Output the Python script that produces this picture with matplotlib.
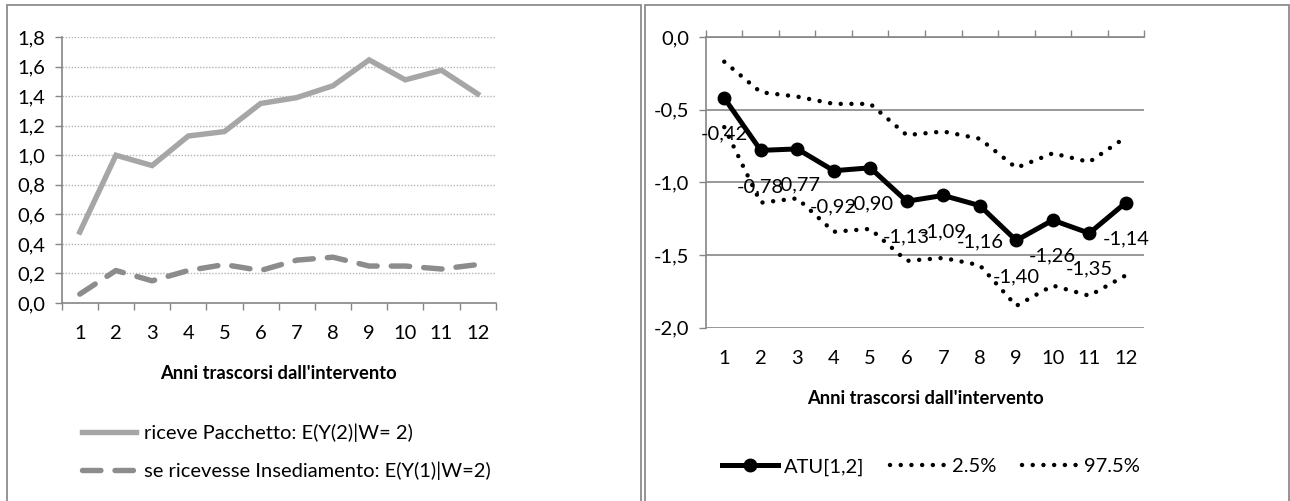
import numpy as np
import matplotlib.pyplot as plt
from matplotlib.lines import Line2D
from matplotlib.patches import Rectangle
from matplotlib.ticker import FuncFormatter, MultipleLocator

plt.rcParams['font.family'] = ['Lato', 'DejaVu Sans']

years = list(range(1, 13))

# left panel: expected outcomes
riceve_pacchetto = [0.48, 1.00, 0.93, 1.13, 1.16, 1.35, 1.39, 1.47, 1.645, 1.51, 1.575, 1.415]
se_insediamento = [0.06, 0.22, 0.15, 0.22, 0.26, 0.22, 0.29, 0.31, 0.25, 0.25, 0.23, 0.26]

# right panel: ATU with bounds
atu = [-0.42, -0.78, -0.77, -0.92, -0.90, -1.13, -1.09, -1.16, -1.40, -1.26, -1.35, -1.14]
lower_25 = [-0.62, -1.14, -1.11, -1.34, -1.32, -1.54, -1.52, -1.57, -1.85, -1.71, -1.78, -1.64]
upper_975 = [-0.17, -0.38, -0.41, -0.46, -0.46, -0.675, -0.65, -0.70, -0.90, -0.80, -0.86, -0.69]

W, H = 1290, 501
AXIS_GRAY = '#868686'
FS = 14.5
FS_BOLD = 13.2


def comma(v, pos):
    return f"{v:.1f}".replace('.', ',')


def fx(px):
    return px / W


def fy(px):
    return 1 - px / H


fig = plt.figure(figsize=(W / 100, H / 100), dpi=100)

# panel frames
for x0, x1 in [(7, 641), (645, 1289)]:
    fig.add_artist(Rectangle((fx(x0), -0.05), fx(x1) - fx(x0), fy(5) + 0.05,
                             transform=fig.transFigure, fill=False,
                             edgecolor='#8c8c8c', lw=1.3))

# ---------- left chart ----------
ax1 = fig.add_axes([fx(61.7), fy(303), fx(434), 266 / H])
ax1.plot(years, riceve_pacchetto, color='#a6a6a6', lw=3.9, solid_joinstyle='miter')
ax1.plot(years, se_insediamento, color='#8c8c8c', lw=3.9, dashes=(3.4, 2.6),
         dash_capstyle='round')
ax1.set_xlim(0.5, 12.5)
ax1.set_ylim(0, 1.8)
ax1.yaxis.set_major_locator(MultipleLocator(0.2))
ax1.yaxis.set_major_formatter(FuncFormatter(comma))
ax1.set_xticks(years)
ax1.set_xticks(np.arange(0.5, 13, 1), minor=True)
ax1.tick_params(axis='x', which='major', length=0, pad=16, labelsize=FS)
ax1.tick_params(axis='x', which='minor', length=5, width=1, color=AXIS_GRAY, direction='out')
ax1.tick_params(axis='y', length=5, width=1, color=AXIS_GRAY, pad=7, labelsize=FS)
ax1.grid(axis='y', color='#b4b4b4', lw=1, ls=(0, (1, 1.2)))
ax1.set_axisbelow(True)
for s in ['top', 'right']:
    ax1.spines[s].set_visible(False)
for s in ['left', 'bottom']:
    ax1.spines[s].set_color(AXIS_GRAY)
    ax1.spines[s].set_linewidth(1.2)
ax1.set_xlabel("Anni trascorsi dall'intervento", fontsize=FS_BOLD, fontweight='bold')
ax1.xaxis.set_label_coords(0.5, -0.232)

h1 = [Line2D([], [], color='#a6a6a6', lw=3.9),
      Line2D([], [], color='#8c8c8c', lw=3.9, dashes=(3.4, 2.6), dash_capstyle='round')]
fig.legend(h1, ['riceve Pacchetto: E(Y(2)|W= 2)', 'se ricevesse Insediamento: E(Y(1)|W=2)'],
           loc='center left', bbox_to_anchor=(fx(72), fy(452)), frameon=False,
           fontsize=FS, handlelength=2.7, handletextpad=0.4, labelspacing=0.95,
           borderpad=0)

# ---------- right chart ----------
ax2 = fig.add_axes([fx(706), fy(327.7), fx(438), 290.7 / H])
dot_style = dict(color='black', lw=3.2, dashes=(0.01, 2.4), dash_capstyle='round')
ax2.plot(years, lower_25, **dot_style)
ax2.plot(years, upper_975, **dot_style)
ax2.plot(years, atu, color='black', lw=3.6, marker='o', markersize=9)
for x, v in zip(years, atu):
    ax2.annotate(f"{v:.2f}".replace('.', ','), (x, v), xytext=(0, -26),
                 textcoords='offset points', ha='center', va='center', fontsize=FS)
ax2.set_xlim(0.5, 12.5)
ax2.set_ylim(-2.0, 0.0)
ax2.yaxis.set_major_locator(MultipleLocator(0.5))
ax2.yaxis.set_major_formatter(FuncFormatter(comma))
ax2.set_xticks(years)
ax2.set_xticks(np.arange(0.5, 13, 1), minor=True)
ax2.tick_params(axis='x', which='major', length=0, pad=16, labelsize=FS)
ax2.tick_params(axis='x', which='minor', bottom=False, top=True, length=5, width=1,
                color=AXIS_GRAY, direction='out')
ax2.tick_params(axis='y', length=5, width=1, color=AXIS_GRAY, pad=7, labelsize=FS)
ax2.grid(axis='y', color=AXIS_GRAY, lw=1.2)
ax2.set_axisbelow(True)
ax2.spines['right'].set_visible(False)
ax2.spines['bottom'].set_visible(False)
for s in ['left', 'top']:
    ax2.spines[s].set_color(AXIS_GRAY)
    ax2.spines[s].set_linewidth(1.2)
ax2.set_xlabel("Anni trascorsi dall'intervento", fontsize=FS_BOLD, fontweight='bold')
ax2.xaxis.set_label_coords(0.5, -0.214)

h2 = [Line2D([], [], color='black', lw=3.6, marker='o', markersize=9),
      Line2D([], [], **dot_style),
      Line2D([], [], **dot_style)]
fig.legend(h2, ['ATU[1,2]', '2.5%', '97.5%'], loc='center left',
           bbox_to_anchor=(fx(712), fy(467)), frameon=False, ncol=3, fontsize=FS,
           handlelength=2.8, handletextpad=0.25, columnspacing=1.3, borderpad=0)

fig.savefig('out.png', dpi=100)
